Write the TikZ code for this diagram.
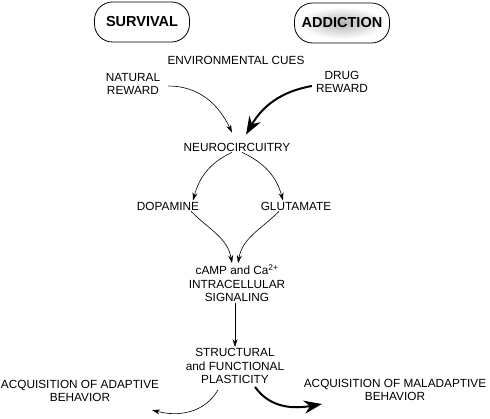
\documentclass[tikz,border=0pt]{standalone}
\usepackage{fontspec}
\setmainfont{Liberation Sans}
\usetikzlibrary{arrows.meta}

\begin{document}
\begin{tikzpicture}[x=1pt,y=-1pt,
    lbl/.style={align=center,inner sep=1pt,font=\fontsize{11.8}{13.5}\selectfont},
    pill/.style={draw,rounded corners=18pt,minimum width=95pt,minimum height=40pt,
      line width=0.8pt,font=\fontsize{14.5}{17}\selectfont\bfseries},
    thin/.style={-{Stealth[length=8pt,width=5pt]},line width=0.6pt},
    fat/.style={-{Stealth[length=18pt,width=13pt]},line width=2pt}]
    \useasboundingbox (0,0) rectangle (490,419);
    % top boxes
    \node[pill] (surv) at (142,22) {SURVIVAL};
    \shade[inner color=gray!60,outer color=white] (342,23) ellipse (44 and 16);
    \node[pill] (addic) at (342,23) {ADDICTION};
    % labels
    \node[lbl] (cues) at (236,60) {ENVIRONMENTAL CUES};
    \node[lbl] (nat) at (133,84) {NATURAL\\REWARD};
    \node[lbl] (drug) at (342,82) {DRUG\\REWARD};
    \node[lbl] (neuro) at (237,147) {NEUROCIRCUITRY};
    \node[lbl] (dopa) at (168,206) {DOPAMINE};
    \node[lbl] (glut) at (296,206) {GLUTAMATE};
    \node[lbl] (signal) at (237,283) {cAMP and Ca\textsuperscript{2+}\\INTRACELLULAR\\SIGNALING};
    \node[lbl] (plast) at (235,366) {STRUCTURAL\\and FUNCTIONAL\\PLASTICITY};
    \node[lbl] (adapt) at (80,391) {ACQUISITION OF ADAPTIVE\\BEHAVIOR};
    \node[lbl] (malad) at (395,390) {ACQUISITION OF MALADAPTIVE\\BEHAVIOR};
    \coordinate (adaptend) at (152,410);
    \coordinate (maladend) at (322,404);
    % arrows
    \draw[thin] ([xshift=7pt,yshift=-2pt]nat.east) to[out=0,in=115] ([xshift=-5pt,yshift=9pt]neuro.north);
    \draw[fat] ([xshift=-3pt,yshift=-4pt]drug.west) to[out=190,in=60] ([xshift=9pt,yshift=7pt]neuro.north);
    \draw[thin] ([xshift=-5pt]neuro.south) to[out=205,in=75] ([xshift=25pt]dopa.north);
    \draw[thin] ([xshift=5pt]neuro.south) to[out=-25,in=105] ([xshift=-13pt]glut.north);
    \draw[thin] ([xshift=23pt]dopa.south) to[out=-45,in=100] ([xshift=-5pt]signal.north);
    \draw[thin] ([xshift=-17pt]glut.south) to[out=225,in=80] ([xshift=1pt]signal.north);
    \draw[thin] ([xshift=-2pt]signal.south) -- ([xshift=0pt]plast.north);
    \draw[thin] ([xshift=-17pt,yshift=-5pt]plast.south) to[out=-120,in=-15] (adaptend);
    \draw[fat] ([xshift=20pt,yshift=-2pt]plast.south) to[out=-55,in=190] (maladend);
\end{tikzpicture}
\end{document}
